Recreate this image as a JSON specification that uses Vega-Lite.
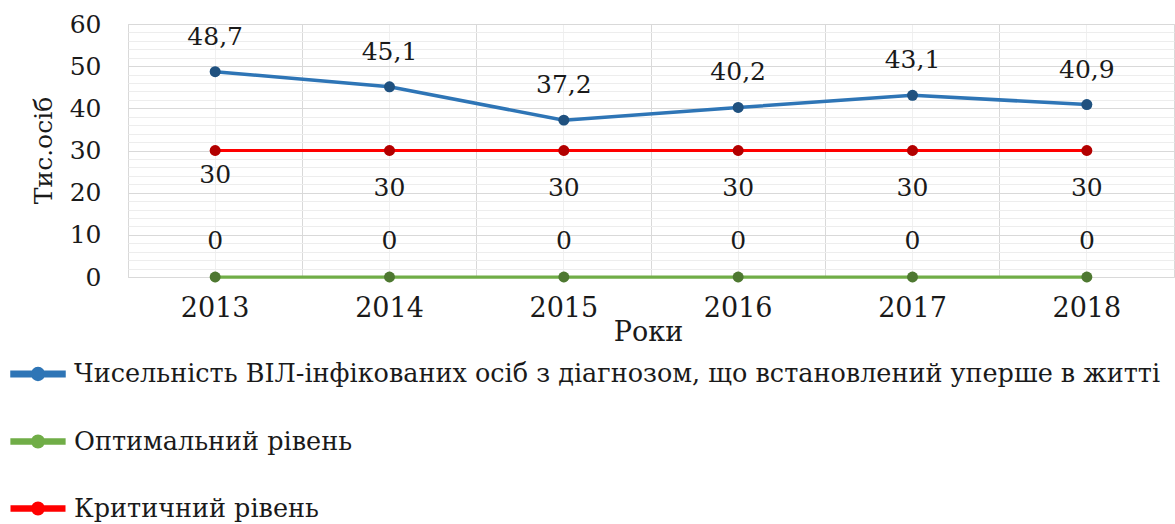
{
  "$schema": "https://vega.github.io/schema/vega-lite/v6.json",
  "width": 1046,
  "height": 253,
  "autosize": {"type": "none"},
  "padding": {"left": 128, "top": 24, "right": 1, "bottom": 247},
  "background": "#ffffff",
  "config": {
    "locale": {"number": {"decimal": ",", "thousands": " ", "grouping": [3], "currency": ["", ""]}},
    "font": "DejaVu Serif",
    "view": {"stroke": "#D9D9D9", "strokeWidth": 1}
  },
  "data": {
    "values": [
      {"year": 2013, "series": "Чисельність ВІЛ-інфікованих осіб з діагнозом, що встановлений уперше в житті", "value": 48.7},
      {"year": 2014, "series": "Чисельність ВІЛ-інфікованих осіб з діагнозом, що встановлений уперше в житті", "value": 45.1},
      {"year": 2015, "series": "Чисельність ВІЛ-інфікованих осіб з діагнозом, що встановлений уперше в житті", "value": 37.2},
      {"year": 2016, "series": "Чисельність ВІЛ-інфікованих осіб з діагнозом, що встановлений уперше в житті", "value": 40.2},
      {"year": 2017, "series": "Чисельність ВІЛ-інфікованих осіб з діагнозом, що встановлений уперше в житті", "value": 43.1},
      {"year": 2018, "series": "Чисельність ВІЛ-інфікованих осіб з діагнозом, що встановлений уперше в житті", "value": 40.9},
      {"year": 2013, "series": "Оптимальний рівень", "value": 0},
      {"year": 2014, "series": "Оптимальний рівень", "value": 0},
      {"year": 2015, "series": "Оптимальний рівень", "value": 0},
      {"year": 2016, "series": "Оптимальний рівень", "value": 0},
      {"year": 2017, "series": "Оптимальний рівень", "value": 0},
      {"year": 2018, "series": "Оптимальний рівень", "value": 0},
      {"year": 2013, "series": "Критичний рівень", "value": 30},
      {"year": 2014, "series": "Критичний рівень", "value": 30},
      {"year": 2015, "series": "Критичний рівень", "value": 30},
      {"year": 2016, "series": "Критичний рівень", "value": 30},
      {"year": 2017, "series": "Критичний рівень", "value": 30},
      {"year": 2018, "series": "Критичний рівень", "value": 30}
    ]
  },
  "layer": [
    {
      "mark": {"type": "line"},
      "encoding": {
        "x": {
          "field": "year", "type": "ordinal",
          "scale": {"type": "band", "paddingInner": 0, "paddingOuter": 0},
          "axis": {
            "orient": "bottom", "grid": true, "gridColor": "#F0F0F0", "bandPosition": 0.5,
            "domain": false, "ticks": false, "tickSize": 0, "labelPadding": 18,
            "labelFontSize": 27, "labelAngle": 0, "labelColor": "#1a1a1a", "labelFont": "DejaVu Serif",
            "title": "Роки", "titleFont": "DejaVu Serif", "titleFontSize": 27, "titleFontWeight": "normal",
            "titleColor": "#1a1a1a", "titleX": 520, "titleY": 63, "titleBaseline": "alphabetic", "titleAlign": "center"
          }
        },
        "y": {
          "field": "value", "type": "quantitative",
          "scale": {"domain": [0, 60], "nice": false},
          "axis": {
            "orient": "left", "values": [0, 10, 20, 30, 40, 50, 60], "grid": true, "gridColor": "#D9D9D9",
            "domain": false, "ticks": false, "tickSize": 0, "labelPadding": 27,
            "labelFontSize": 25, "labelColor": "#1a1a1a", "labelFont": "DejaVu Serif",
            "title": "Тис.осіб", "titleFont": "DejaVu Serif", "titleFontSize": 25, "titleFontWeight": "normal",
            "titleColor": "#1a1a1a", "titleX": -85, "titleY": 126, "titleAngle": 270,
            "titleAlign": "center", "titleBaseline": "middle"
          }
        },
        "color": {
          "field": "series", "type": "nominal",
          "scale": {
            "domain": ["Чисельність ВІЛ-інфікованих осіб з діагнозом, що встановлений уперше в житті", "Оптимальний рівень", "Критичний рівень"],
            "range": ["#2E75B6", "#70AD47", "#FF0000"]
          },
          "legend": {
            "orient": "none", "legendX": -118, "legendY": 322, "direction": "vertical", "title": null,
            "symbolType": "M-1,-0.067L1,-0.067L1,0.067L-1,0.067Z M-0.21,0 A0.21,0.21 0 1,1 0.21,0 A0.21,0.21 0 1,1 -0.21,0 Z",
            "symbolSize": 2704, "symbolStrokeWidth": 0,
            "labelFontSize": 25.5, "labelFont": "DejaVu Serif", "labelColor": "#1a1a1a",
            "labelOffset": 8, "rowPadding": 25.5, "labelLimit": 2000, "padding": 0,
            "encode": {"symbols": {"update": {"fill": {"scale": "color", "field": "value"}, "fillOpacity": {"value": 1}, "strokeWidth": {"value": 0}}}}
          }
        },
        "strokeWidth": {
          "field": "series", "type": "nominal",
          "scale": {
            "domain": ["Чисельність ВІЛ-інфікованих осіб з діагнозом, що встановлений уперше в житті", "Оптимальний рівень", "Критичний рівень"],
            "range": [3.5, 3, 5]
          },
          "legend": null
        }
      }
    },
    {
      "mark": {"type": "point", "filled": true, "size": 120, "opacity": 1},
      "encoding": {
        "x": {
          "field": "year", "type": "ordinal",
          "axis": {"orient": "top", "grid": true, "gridColor": "#D9D9D9", "bandPosition": 0, "labels": false, "ticks": false, "domain": false, "title": null}
        },
        "y": {
          "field": "value", "type": "quantitative",
          "axis": {"orient": "right", "values": [2, 4, 6, 8, 12, 14, 16, 18, 22, 24, 26, 28, 32, 34, 36, 38, 42, 44, 46, 48, 52, 54, 56, 58], "grid": true, "gridColor": "#EDEDED", "labels": false, "ticks": false, "domain": false, "title": null}
        },
        "color": {"field": "series", "type": "nominal"}
      }
    },
    {
      "mark": {"type": "point", "filled": true, "size": 120, "color": "#000000", "opacity": 0.3},
      "encoding": {
        "x": {"field": "year", "type": "ordinal", "axis": null},
        "y": {"field": "value", "type": "quantitative", "axis": null}
      }
    },
    {
      "transform": [{"filter": "datum.series === 'Чисельність ВІЛ-інфікованих осіб з діагнозом, що встановлений уперше в житті'"}],
      "mark": {"type": "text", "dy": -35, "fontSize": 25, "font": "DejaVu Serif", "color": "#1a1a1a", "baseline": "middle"},
      "encoding": {
        "x": {"field": "year", "type": "ordinal", "axis": null},
        "y": {"field": "value", "type": "quantitative", "axis": null},
        "text": {"field": "value", "type": "quantitative", "format": ".1~f"}
      }
    },
    {
      "transform": [{"filter": "datum.series === 'Критичний рівень' && datum.year !== 2013"}],
      "mark": {"type": "text", "dy": 37, "fontSize": 25, "font": "DejaVu Serif", "color": "#1a1a1a", "baseline": "middle"},
      "encoding": {
        "x": {"field": "year", "type": "ordinal", "axis": null},
        "y": {"field": "value", "type": "quantitative", "axis": null},
        "text": {"field": "value", "type": "quantitative", "format": ".1~f"}
      }
    },
    {
      "transform": [{"filter": "datum.series === 'Критичний рівень' && datum.year === 2013"}],
      "mark": {"type": "text", "dy": 24, "fontSize": 25, "font": "DejaVu Serif", "color": "#1a1a1a", "baseline": "middle"},
      "encoding": {
        "x": {"field": "year", "type": "ordinal", "axis": null},
        "y": {"field": "value", "type": "quantitative", "axis": null},
        "text": {"field": "value", "type": "quantitative", "format": ".1~f"}
      }
    },
    {
      "transform": [{"filter": "datum.series === 'Оптимальний рівень'"}],
      "mark": {"type": "text", "dy": -36, "fontSize": 25, "font": "DejaVu Serif", "color": "#1a1a1a", "baseline": "middle"},
      "encoding": {
        "x": {"field": "year", "type": "ordinal", "axis": null},
        "y": {"field": "value", "type": "quantitative", "axis": null},
        "text": {"field": "value", "type": "quantitative", "format": ".1~f"}
      }
    }
  ],
  "resolve": {"axis": {"x": "independent", "y": "independent"}}
}
